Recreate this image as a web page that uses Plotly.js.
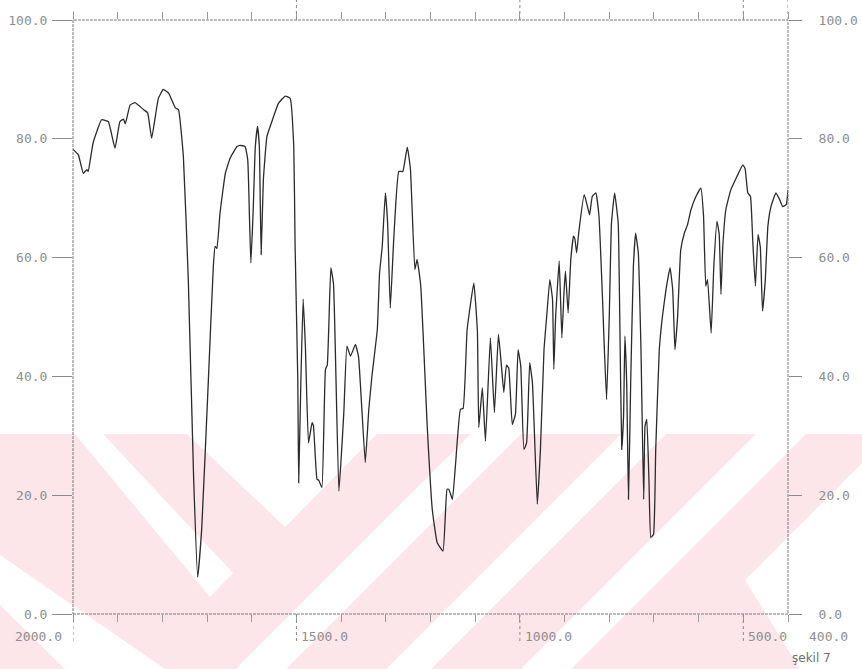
<!DOCTYPE html>
<html>
<head>
<meta charset="utf-8">
<script src="https://cdn.plot.ly/plotly-3.0.1.min.js"></script>
<style>
  html, body { margin: 0; padding: 0; background: #ffffff; }
  #chart { width: 862px; height: 669px; }
</style>
</head>
<body>
<div id="chart"></div>
<script>
// IR spectrum: wavenumber (cm-1) and transmittance (%)
const wavenumber = [
  2000, 1988, 1977, 1969, 1966, 1955, 1936, 1921, 1906, 1895,
  1887, 1883, 1872, 1861, 1842, 1833, 1824, 1809, 1798, 1786,
  1771, 1764, 1753, 1742, 1730, 1721, 1712, 1697, 1686, 1682,
  1678, 1671, 1659, 1648, 1633, 1626, 1615, 1609, 1605, 1602,
  1597, 1592, 1587, 1583, 1579, 1574, 1566, 1555, 1540, 1525,
  1514, 1506, 1503, 1497, 1495, 1490, 1485, 1480, 1473, 1465,
  1462, 1454, 1450, 1443, 1435, 1431, 1423, 1417, 1405, 1394,
  1387, 1379, 1368, 1361, 1346, 1338, 1331, 1319, 1314, 1308,
  1301, 1296, 1290, 1282, 1271, 1262, 1252, 1245, 1235, 1230,
  1222, 1207, 1196, 1185, 1172, 1163, 1159, 1151, 1144, 1133,
  1127, 1118, 1103, 1095, 1092, 1084, 1077, 1066, 1057, 1048,
  1042, 1036, 1030, 1025, 1017, 1010, 1004, 998, 991, 985,
  978, 972, 961, 954, 946, 940, 933, 927, 924, 920,
  912, 909, 906, 901, 898, 892, 886, 880, 877, 873,
  868, 856, 849, 844, 838, 830, 823, 815, 812, 806,
  800, 795, 788, 780, 776, 772, 768, 765, 761, 757,
  752, 746, 741, 735, 729, 723, 720, 716, 711, 707,
  701, 696, 688, 681, 673, 664, 658, 653, 647, 640,
  632, 625, 617, 606, 595, 589, 584, 580, 572, 566,
  559, 554, 550, 546, 539, 528, 514, 501, 496, 490,
  484, 479, 473, 467, 462, 457, 451, 445, 438, 427,
  419, 412, 404, 400
];
const transmittance = [
  78.2, 77.3, 74.2, 74.8, 74.5, 79.3, 83.2, 82.9, 78.4, 82.9,
  83.3, 82.5, 85.7, 86.1, 84.9, 84.4, 80.1, 86.8, 88.3, 87.7,
  85.2, 84.9, 77.0, 56.3, 22.7, 6.2, 14.3, 39.5, 58.5, 61.9,
  61.5, 67.5, 74.2, 76.8, 78.7, 78.9, 78.7, 76.5, 66.4, 59.1,
  67.5, 78.7, 82.1, 78.7, 60.5, 73.1, 80.4, 82.9, 86.0, 87.2,
  86.8, 78.7, 61.9, 39.5, 22.1, 39.5, 53.0, 45.1, 28.8, 32.2,
  31.7, 22.7, 22.5, 21.3, 41.2, 41.9, 58.3, 55.5, 20.7, 33.9,
  45.1, 43.4, 45.4, 43.3, 25.5, 34.5, 40.1, 47.9, 57.4, 61.9,
  70.9, 65.9, 51.5, 63.5, 74.5, 74.5, 78.6, 75.0, 58.0, 59.7,
  55.4, 31.1, 17.6, 12.0, 10.6, 21.0, 21.0, 19.3, 25.2, 34.5,
  34.6, 47.9, 55.7, 47.5, 31.4, 38.1, 29.1, 46.5, 33.9, 47.1,
  42.4, 37.3, 41.9, 41.4, 31.9, 33.6, 44.5, 41.7, 27.7, 28.8,
  42.3, 39.0, 18.5, 27.7, 44.5, 50.1, 56.3, 53.0, 41.2, 50.0,
  59.4, 53.0, 46.5, 54.5, 57.7, 50.7, 59.7, 63.6, 63.2, 60.8,
  64.4, 70.6, 68.7, 67.2, 70.3, 70.9, 67.0, 52.9, 46.7, 36.1,
  50.0, 65.8, 70.9, 65.8, 47.3, 27.7, 33.3, 46.8, 39.0, 19.3,
  39.0, 58.5, 64.1, 60.8, 44.5, 19.3, 31.6, 32.8, 22.1, 12.9,
  13.4, 27.7, 44.5, 50.1, 54.6, 58.3, 54.6, 44.5, 50.1, 61.3,
  64.1, 65.5, 68.1, 70.3, 71.7, 67.0, 55.2, 56.3, 47.3, 58.5,
  66.1, 64.0, 53.8, 61.8, 68.1, 71.4, 73.7, 75.6, 75.0, 70.9,
  70.3, 63.0, 55.2, 63.9, 61.8, 51.0, 56.0, 65.3, 68.6, 70.9,
  69.8, 68.6, 68.9, 71.4
];

// Axis ticks and labels
const yTickVals = [0, 20, 40, 60, 80, 100];
const yTickText = ["0.0", "20.0", "40.0", "60.0", "80.0", "100.0"];
const xMinorTicks = [400, 500, 600, 700, 800, 900, 1000, 1100, 1200, 1300,
                     1400, 1500, 1600, 1700, 1800, 1900, 2000];
const xLabelVals = [2000, 1500, 1000, 500, 400];
const xLabelText = ["2000.0", "1500.0", "1000.0", "500.0", "400.0"];
const caption = "şekil 7";

// page geometry (pixels)
const W = 862, H = 669;
const M = { l: 73, r: 74, t: 20, b: 55 };
const plotW = W - M.l - M.r, plotH = H - M.t - M.b;
const px2paperX = px => (px - M.l) / plotW;
const px2paperY = py => (H - M.b - py) / plotH;

function polyPath(pts) {
  return pts.map((p, i) => (i ? "L" : "M") + px2paperX(p[0]).toFixed(4) + "," + px2paperY(p[1]).toFixed(4)).join(" ") + " Z";
}

// faint background stamp (pink panel with white diagonal bands)
const stampPink = "#fce6ea";
const stampBase = [[0, 434], [862, 434], [862, 669], [0, 669]];
const stampGaps = [
  [[75, 434], [103, 434], [233, 573], [210, 597]],
  [[0, 555], [0, 605], [65, 669], [165, 669]],
  [[187, 434], [377, 434], [285, 527]],
  [[471, 434], [521, 434], [286, 669], [236, 669]],
  [[621, 434], [666, 434], [431, 669], [386, 669]],
  [[756, 434], [806, 434], [571, 669], [521, 669]],
  [[862, 463], [862, 669], [800, 669], [745, 580]]
];

const shapes = [];
shapes.push({ type: "path", xref: "paper", yref: "paper", layer: "below",
  path: polyPath(stampBase), fillcolor: stampPink, line: { width: 0 } });
stampGaps.forEach(g => shapes.push({ type: "path", xref: "paper", yref: "paper", layer: "below",
  path: polyPath(g), fillcolor: "#ffffff", line: { width: 0 } }));

// dotted frame
const frameColor = "#7a7a7a";
shapes.push({ type: "rect", xref: "paper", yref: "paper", x0: 0, x1: 1, y0: 0, y1: 1,
  line: { color: frameColor, width: 1, dash: "3px,1px" }, layer: "above" });

// long marker lines at labelled wavenumbers
[2000, 1500, 1000, 500].forEach(v => shapes.push({ type: "line", xref: "x", yref: "paper",
  x0: v, x1: v, y0: 0, y1: px2paperY(641), line: { color: "#8a8a8a", width: 1, dash: "dot" } }));
[2000, 1500, 1000, 500, 400].forEach(v => shapes.push({ type: "line", xref: "x", yref: "paper",
  x0: v, x1: v, y0: 1, y1: px2paperY(v === 2000 ? 10 : 0), line: { color: "#8a8a8a", width: 1, dash: "dot" } }));

const labelFont = { family: "DejaVu Sans Mono", size: 13, color: "#8e8e8e" };

const annotations = xLabelVals.map((v, i) => ({
  x: v, xref: "x", y: px2paperY(636), yref: "paper",
  text: xLabelText[i], showarrow: false,
  xanchor: i === 0 ? "right" : "left",
  xshift: i === 0 ? -9 : (i === 4 ? 19 : 3),
  yanchor: "middle", font: labelFont
}));
annotations.push({
  x: px2paperX(790), xref: "paper", y: px2paperY(658), yref: "paper",
  text: caption, showarrow: false, xanchor: "left", yanchor: "middle",
  font: { family: "DejaVu Sans", size: 12, color: "#6f6f6f" }
});

const lineStyle = { color: "#2b2b2b", width: 1.3, shape: "spline", smoothing: 0.35 };

const traces = [
  { x: wavenumber, y: transmittance, type: "scatter", mode: "lines",
    line: lineStyle, hoverinfo: "x+y", showlegend: false },
  { x: wavenumber, y: transmittance, type: "scatter", mode: "lines", yaxis: "y2",
    line: { color: "rgba(0,0,0,0)", width: 0 }, hoverinfo: "skip", showlegend: false }
];

const yCommon = {
  range: [0, 100], tickvals: yTickVals, ticktext: yTickText, ticks: "outside",
  tickcolor: "#8a8a8a", tickwidth: 1, showgrid: false, zeroline: false, showline: false,
  tickfont: labelFont, fixedrange: true
};

const layout = {
  width: W, height: H,
  margin: M,
  paper_bgcolor: "#ffffff",
  plot_bgcolor: "rgba(0,0,0,0)",
  showlegend: false,
  xaxis: {
    range: [2000, 400], tickvals: xMinorTicks, showticklabels: false,
    ticks: "outside", ticklen: 7, tickcolor: "#9a9a9a", tickwidth: 1,
    mirror: "ticks", showline: false, showgrid: false, zeroline: false, fixedrange: true
  },
  yaxis: Object.assign({}, yCommon, { side: "left", ticklen: 20, ticklabelstandoff: 2 }),
  yaxis2: Object.assign({}, yCommon, { side: "right", overlaying: "y", ticklen: 13, ticklabelstandoff: 14 }),
  shapes: shapes,
  annotations: annotations
};

Plotly.newPlot("chart", traces, layout, { displayModeBar: false, staticPlot: true });
</script>
</body>
</html>
